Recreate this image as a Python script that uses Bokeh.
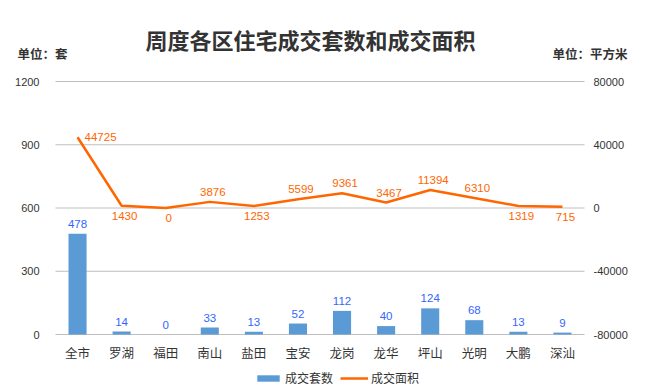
from bokeh.plotting import figure
from bokeh.models import (ColumnDataSource, Range1d, LabelSet, Label, Legend, LegendItem)
from bokeh.core.properties import value
from bokeh.embed import file_html
from bokeh.resources import INLINE

# ---- data ----
districts = ["全市", "罗湖", "福田", "南山", "盐田", "宝安", "龙岗", "龙华", "坪山", "光明", "大鹏", "深汕"]
units_sold = [478, 14, 0, 33, 13, 52, 112, 40, 124, 68, 13, 9]
area_sold = [44725, 1430, 0, 3876, 1253, 5599, 9361, 3467, 11394, 6310, 1319, 715]
left_ticks = [0, 300, 600, 900, 1200]
right_ticks = [-80000, -40000, 0, 40000, 80000]
title_text = "周度各区住宅成交套数和成交面积"
left_unit = "单位：套"
right_unit = "单位：平方米"
bar_name = "成交套数"
line_name = "成交面积"

# label placement for area values (style only)
area_label_pos = ["right", "below", "below", "above", "below", "above",
                  "above", "above", "above", "above", "below", "below"]

BAR_COLOR = "#5B9BD5"
LINE_COLOR = "#FF6600"
GRID_COLOR = "#BFBFBF"
TXT = "#333333"
CJK = "Noto Sans CJK SC"
NUM = "Liberation Sans"

# ---- layout geometry (pixels on the canvas) ----
W, H = 647, 390
PLOT_L, PLOT_R = 55, 584      # plot area left/right edge
PLOT_T, PLOT_B = 81, 334      # plot area top/bottom edge
n = len(districts)
band = (PLOT_R - PLOT_L) / n  # px per category

# scales: category index -> px, value -> px, derived from plot area
x0 = -(PLOT_L + band / 2) / band
x1 = x0 + W / band
L_MIN, L_MAX = left_ticks[0], left_ticks[-1]
R_MIN, R_MAX = right_ticks[0], right_ticks[-1]
l_per_px = (L_MAX - L_MIN) / (PLOT_B - PLOT_T)
r_per_px = (R_MAX - R_MIN) / (PLOT_B - PLOT_T)
y_lo = L_MIN - (H - PLOT_B) * l_per_px
y_hi = L_MAX + PLOT_T * l_per_px
r_lo = R_MIN - (H - PLOT_B) * r_per_px
r_hi = R_MAX + PLOT_T * r_per_px

p = figure(width=W, height=H, x_range=Range1d(x0, x1), y_range=Range1d(y_lo, y_hi),
           output_backend="svg", toolbar_location=None,
           x_axis_location=None, y_axis_location=None,
           min_border=0, min_border_left=0, min_border_right=0,
           min_border_top=0, min_border_bottom=0)
p.outline_line_color = None
p.grid.visible = False
p.extra_y_ranges = {"area": Range1d(r_lo, r_hi)}

idx = list(range(n))
edge_l, edge_r = -0.5, n - 0.5

# horizontal grid lines at the left-axis ticks
p.segment(x0=[edge_l] * len(left_ticks), x1=[edge_r] * len(left_ticks),
          y0=left_ticks, y1=left_ticks, line_color=GRID_COLOR, line_width=1)

src = ColumnDataSource(dict(
    x=idx, d=districts, n=units_sold, a=area_sold, zero=[0] * n,
    nlab=[str(v) for v in units_sold], alab=[str(v) for v in area_sold],
    ax=[23 if s == "right" else 3 for s in area_label_pos],
    ay=[0 if s == "right" else (10 if s == "above" else -10) for s in area_label_pos],
))

bars = p.vbar(x="x", top="n", bottom=0, width=0.41, source=src, color=BAR_COLOR, line_color=None)
line = p.line(x="x", y="a", source=src, y_range_name="area", line_color=LINE_COLOR, line_width=2.5)

# value labels
p.add_layout(LabelSet(x="x", y="n", text="nlab", source=src, y_offset=10,
                      text_align="center", text_baseline="middle",
                      text_color="#3366FF", text_font=value(NUM), text_font_size="11.5px"))
p.add_layout(LabelSet(x="x", y="a", text="alab", source=src, y_range_name="area",
                      x_offset="ax", y_offset="ay", text_align="center", text_baseline="middle",
                      text_color=LINE_COLOR, text_font=value(NUM), text_font_size="11.5px"))

# axis tick labels
lsrc = ColumnDataSource(dict(x=[edge_l] * len(left_ticks), y=left_ticks,
                             t=[str(v) for v in left_ticks]))
rsrc = ColumnDataSource(dict(x=[edge_r] * len(right_ticks), y=right_ticks,
                             t=[str(v) for v in right_ticks]))
p.add_layout(LabelSet(x="x", y="y", text="t", source=lsrc, x_offset=-16,
                      text_align="right", text_baseline="middle", text_color=TXT,
                      text_font=value(NUM), text_font_size="11px"))
p.add_layout(LabelSet(x="x", y="y", text="t", source=rsrc, y_range_name="area", x_offset=9,
                      text_align="left", text_baseline="middle", text_color=TXT,
                      text_font=value(NUM), text_font_size="11px"))
p.add_layout(LabelSet(x="x", y="zero", text="d", source=src, y_offset=-18,
                      text_align="center", text_baseline="middle", text_color=TXT,
                      text_font=value(CJK), text_font_size="12.5px"))

# legend
legend = Legend(items=[LegendItem(label=bar_name, renderers=[bars]),
                       LegendItem(label=line_name, renderers=[line])],
                orientation="horizontal", location=(254, 4),
                border_line_color=None, background_fill_alpha=0,
                label_text_font=CJK, label_text_font_size="12px", label_text_color=TXT,
                glyph_width=28, glyph_height=8, label_height=16, label_standoff=3, spacing=7,
                padding=0, margin=0)
p.add_layout(legend, "center")

# title and unit labels
p.add_layout(Label(x=310, y=H - 38, x_units="screen", y_units="screen", text=title_text,
                   text_align="center", text_baseline="middle", text_font=CJK,
                   text_font_size="22px", text_font_style="bold", text_color=TXT))
p.add_layout(Label(x=17, y=H - 53, x_units="screen", y_units="screen", text=left_unit,
                   text_align="left", text_baseline="middle", text_font=CJK,
                   text_font_size="12.5px", text_font_style="bold", text_color=TXT))
p.add_layout(Label(x=627, y=H - 53, x_units="screen", y_units="screen", text=right_unit,
                   text_align="right", text_baseline="middle", text_font=CJK,
                   text_font_size="12.5px", text_font_style="bold", text_color=TXT))

open("out.html", "w").write(file_html(p, INLINE))
